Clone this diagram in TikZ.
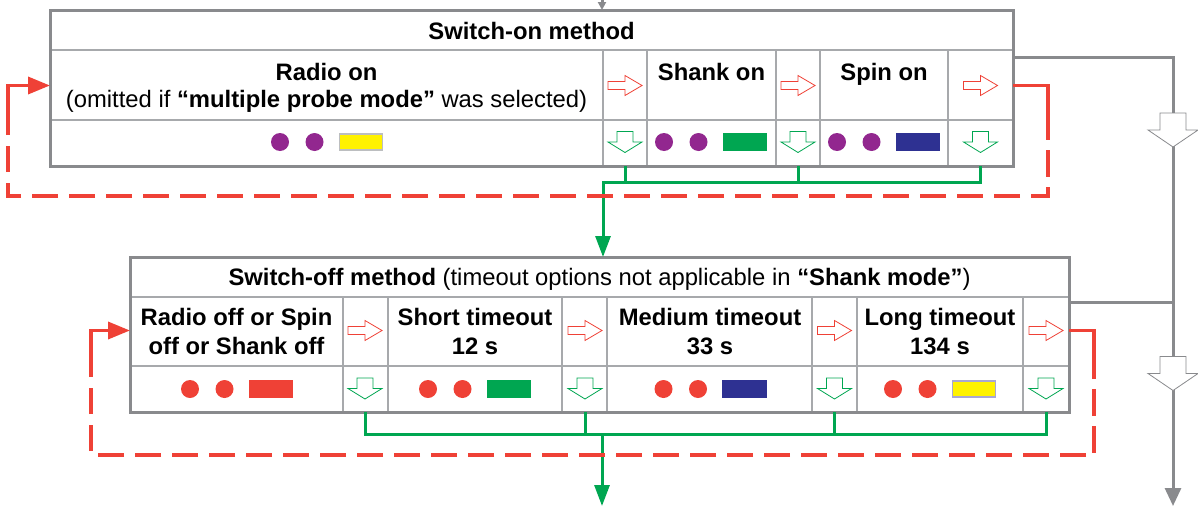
\documentclass[tikz,border=0pt]{standalone}
\usepackage{fontspec}
\setmainfont{Liberation Sans}
\usetikzlibrary{arrows.meta}

\definecolor{framegray}{HTML}{898A8D}
\definecolor{gridgray}{HTML}{A7A9AC}
\definecolor{loopred}{HTML}{EF4136}
\definecolor{okgreen}{HTML}{00A651}
\definecolor{ledpurple}{HTML}{92278F}
\definecolor{ledblue}{HTML}{2E3192}
\definecolor{ledyellow}{HTML}{FFF200}
\definecolor{lampgray}{HTML}{BCBEC0}
\definecolor{lavender}{HTML}{A9A7D3}

\begin{document}
\begin{tikzpicture}[x=1pt, y=-1pt,
    txt/.style={font=\fontsize{23.8}{28}\selectfont, anchor=base, inner sep=0pt},
    bold/.style={txt, font=\fontsize{23.8}{28}\selectfont\bfseries},
    frame/.style={draw=framegray, line width=3pt},
    grid/.style={draw=gridgray, line width=1.5pt},
    dot/.style={circle, inner sep=0pt, minimum size=18pt},
    lamp/.style={rectangle, inner sep=0pt, minimum width=43pt, minimum height=16pt, line width=1.5pt},
    grayflow/.style={draw=framegray, line width=3pt},
    greenflow/.style={draw=okgreen, line width=3pt, -{Triangle[length=21pt,width=15pt]}},
    redsolid/.style={draw=loopred, line width=3.5pt},
    redloop/.style={redsolid, dash pattern=on 26.5pt off 10.5pt},
    redin/.style={redsolid, -{Triangle[length=22pt,width=17pt]}},
    pics/nextarr/.style={code={
      \draw[loopred, fill=white, line width=0.8pt] (-17,-4) -- (0,-4) -- (0,-10) -- (17,0) -- (0,10) -- (0,4) -- (-17,4) -- cycle;}},
    pics/okarr/.style={code={
      \draw[okgreen, fill=white, line width=0.8pt] (-8,-10.5) -- (8,-10.5) -- (8,0) -- (17,0) -- (0,10.5) -- (-17,0) -- (-8,0) -- cycle;}},
    pics/passarr/.style={code={
      \draw[framegray, fill=white, line width=0.8pt] (-13,-17) -- (13,-17) -- (13,0) -- (25,0) -- (0,17) -- (-25,0) -- (-13,0) -- cycle;}}
]
\useasboundingbox (0,0) rectangle (1198,506);

    % Switch-on table
    \coordinate (onNW) at (50,10);
    \coordinate (onSE) at (1013,166);
    \draw[grid] (50,50) -- (1013,50);
    \draw[grid] (50,120) -- (1013,120);
    \foreach \x in {603,647,776,820,948}
        \draw[grid] (\x,50) -- (\x,166);
    \draw[frame] (onNW) rectangle (onSE);

    % Switch-off table
    \coordinate (offNW) at (130,257);
    \coordinate (offSE) at (1069,412);
    \draw[grid] (130,297) -- (1069,297);
    \draw[grid] (130,366) -- (1069,366);
    \foreach \x in {343,388,562,607,812,857,1023}
        \draw[grid] (\x,297) -- (\x,412);
    \draw[frame] (offNW) rectangle (offSE);

    % Texts of the switch-on table
    \node[bold] (onhead) at (531.5,39) {Switch-on method};
    \node[bold] (radioon) at (326.5,80) {Radio on};
    \node[txt] (radionote) at (326.5,107) {(omitted if \textbf{“multiple probe mode”} was selected)};
    \node[bold] (shankon) at (711.5,80) {Shank on};
    \node[bold] (spinon) at (884,80) {Spin on};

    % Texts of the switch-off table
    \node[txt] (offhead) at (599.5,285) {\textbf{Switch-off method} (timeout options not applicable in \textbf{“Shank mode”})};
    \node[bold] (radiooffA) at (236.5,325) {Radio off or Spin};
    \node[bold] (radiooffB) at (236.5,354) {off or Shank off};
    \node[bold] (shortA) at (475,325) {Short timeout};
    \node[bold] (shortB) at (475,354) {12 s};
    \node[bold] (mediumA) at (710,325) {Medium timeout};
    \node[bold] (mediumB) at (710,354) {33 s};
    \node[bold] (longA) at (940,325) {Long timeout};
    \node[bold] (longB) at (940,354) {134 s};

    % LED signals
    \foreach \n/\x/\c/\b in {radio/280/ledyellow/lampgray, shank/664/okgreen/okgreen, spin/837/ledblue/ledblue}{
        \node[dot, fill=ledpurple] (\n-dotA) at (\x,142) {};
        \node[dot, fill=ledpurple] (\n-dotB) at (\x+34.5,142) {};
        \node[lamp, fill=\c, draw=\b] (\n-lamp) at (\x+81,142) {};
    }
    \foreach \n/\x/\c/\b in {radiooff/190/loopred/loopred, short/428/okgreen/okgreen, medium/663.5/ledblue/ledblue, long/893/ledyellow/lavender}{
        \node[dot, fill=loopred] (\n-dotA) at (\x,389) {};
        \node[dot, fill=loopred] (\n-dotB) at (\x+34.5,389) {};
        \node[lamp, fill=\c, draw=\b] (\n-lamp) at (\x+81,389) {};
    }

    % Outline arrows in the cells
    \foreach \x in {625,798,980.5}{
        \pic at (\x,85.5) {nextarr};
        \pic at (\x,142) {okarr};
    }
    \foreach \x in {365,585,834.5,1046}{
        \pic at (\x,330.5) {nextarr};
        \pic at (\x,388.5) {okarr};
    }

    % Gray flow on the right
    \coordinate (grayin) at (602,0);
    \coordinate (onN) at (602,10);
    \coordinate (onE) at (1013,57);
    \coordinate (grayTR) at (1173,57);
    \coordinate (grayout) at (1173,506);
    \coordinate (offE) at (1069,302);
    \draw[grayflow, -{Triangle[length=8pt,width=8pt]}] (grayin) -- (onN);
    \draw[grayflow, -{Triangle[length=18pt,width=16pt]}] (onE) -- (grayTR) -- (grayout);
    \draw[grayflow] (offE) -- (offE -| grayTR);
    \pic at (1173,130) {passarr};
    \pic at (1173,373.5) {passarr};

    % Green flow out of the switch-on table
    \coordinate (onokA) at (625,166);
    \coordinate (onokB) at (798,166);
    \coordinate (onokC) at (980.5,166);
    \coordinate (onbusL) at (603,182);
    \coordinate (onbusR) at (980.5,182);
    \coordinate (offN) at (603,257);
    \draw[greenflow] (onokC) -- (onbusR) -- (onbusL) -- (offN);
    \draw[greenflow, -] (onokA) -- (onokA |- onbusL);
    \draw[greenflow, -] (onokB) -- (onokB |- onbusL);

    % Green flow out of the switch-off table
    \coordinate (offokA) at (365,412);
    \coordinate (offokB) at (585,412);
    \coordinate (offokC) at (834.5,412);
    \coordinate (offokD) at (1046,412);
    \coordinate (offbusL) at (365,434);
    \coordinate (offbusR) at (1046,434);
    \coordinate (offbusM) at (602,434);
    \coordinate (offout) at (602,506);
    \draw[greenflow, -] (offokA) -- (offbusL) -- (offbusR) -- (offokD);
    \draw[greenflow, -] (offokB) -- (offokB |- offbusL);
    \draw[greenflow, -] (offokC) -- (offokC |- offbusL);
    \draw[greenflow] (offbusM) -- (offout);

    % Red loop round the switch-on table
    \coordinate (onloopA) at (1013,85.5);
    \coordinate (onloopB) at (1048,85.5);
    \coordinate (onloopG) at (1048,113);
    \coordinate (onloopC) at (1048,196);
    \coordinate (onloopD) at (8,196);
    \coordinate (onloopF) at (8,111);
    \coordinate (onloopE) at (8,85.5);
    \coordinate (onW) at (50,85.5);
    \draw[redsolid] (onloopA) -- (onloopB) -- (onloopG);
    \draw[redloop] (onloopG) -- (onloopC) -- (onloopD) -- (onloopF);
    \draw[redin] (onloopF) -- (onloopE) -- (onW);

    % Red loop round the switch-off table
    \coordinate (offloopA) at (1069,330.5);
    \coordinate (offloopB) at (1094,330.5);
    \coordinate (offloopG) at (1094,352);
    \coordinate (offloopC) at (1094,455);
    \coordinate (offloopD) at (91,455);
    \coordinate (offloopF) at (91,357);
    \coordinate (offloopE) at (91,330.5);
    \coordinate (offW) at (130,330.5);
    \draw[redsolid] (offloopA) -- (offloopB) -- (offloopG);
    \draw[redloop] (offloopG) -- (offloopC) -- (offloopD) -- (offloopF);
    \draw[redin] (offloopF) -- (offloopE) -- (offW);

\end{tikzpicture}
\end{document}
